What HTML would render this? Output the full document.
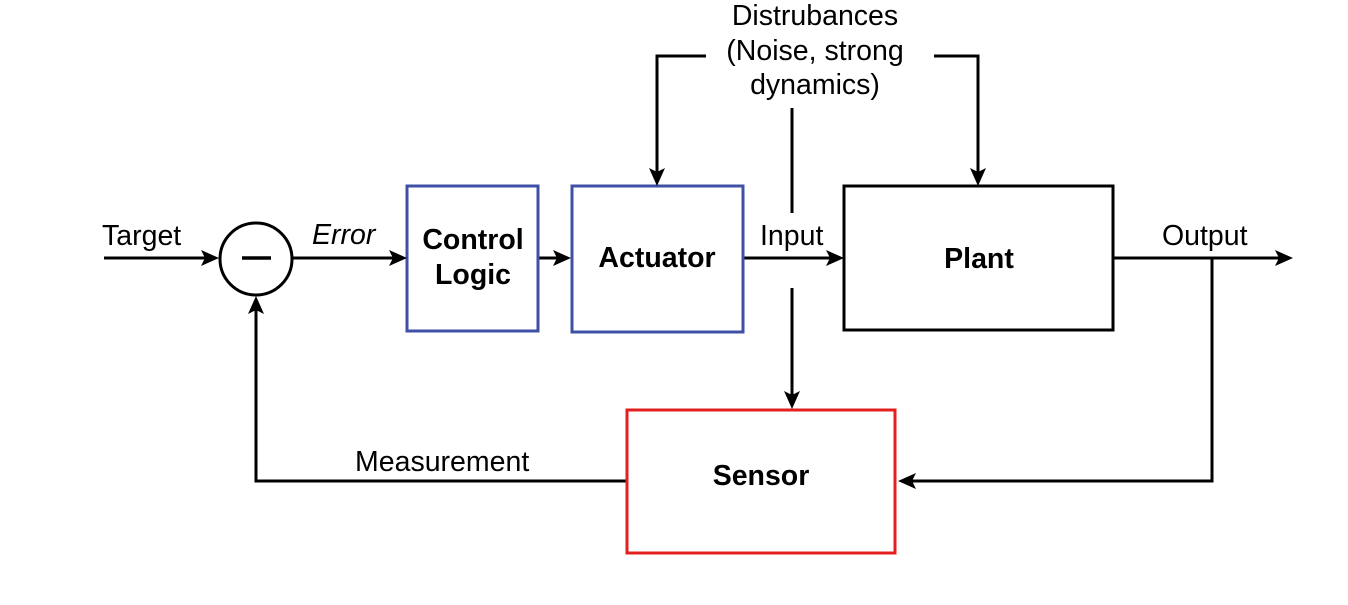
<!DOCTYPE html>
<html><head><meta charset="utf-8"><style>html,body{margin:0;padding:0;background:#fff}svg{display:block}text{font-family:"Liberation Sans",Arial,sans-serif;fill:#000}</style></head>
<body>
<svg width="1348" height="605" viewBox="0 0 1348 605" xmlns="http://www.w3.org/2000/svg">
<g stroke="#000" stroke-width="3" fill="none">
<line x1="104" y1="258" x2="210" y2="258"/>
<circle cx="256" cy="259" r="36"/>
<line x1="242" y1="258" x2="271" y2="258" stroke-width="3.5"/>
<line x1="292" y1="258" x2="398" y2="258"/>
<line x1="538" y1="258" x2="562" y2="258"/>
<line x1="743" y1="258" x2="835" y2="258"/>
<line x1="1113" y1="258" x2="1284" y2="258"/>
<polyline points="1212,258 1212,481 907,481"/>
<polyline points="626,481 256,481 256,304"/>
<polyline points="706,56 657,56 657,177"/>
<polyline points="934,56 978,56 978,177"/>
<line x1="792" y1="108" x2="792" y2="213"/>
<line x1="792" y1="288" x2="792" y2="400"/>
<rect x="407" y="186" width="131" height="145" stroke="#3f51a5"/>
<rect x="572" y="186" width="171" height="146" stroke="#3f51a5"/>
<rect x="844" y="186" width="269" height="144"/>
<rect x="627" y="410" width="268" height="143" stroke="#e3201f"/>
</g>
<g fill="#000">
<path d="M219,258 L201,250 L205,258 L201,266 Z"/>
<path d="M407,258 L389,250 L393,258 L389,266 Z"/>
<path d="M571,258 L553,250 L557,258 L553,266 Z"/>
<path d="M844,258 L826,250 L830,258 L826,266 Z"/>
<path d="M1293,258 L1275,250 L1279,258 L1275,266 Z"/>
<path d="M898,481 L916,473 L912,481 L916,489 Z"/>
<path d="M256,296 L248,314 L256,310 L264,314 Z"/>
<path d="M657,186 L649,168 L657,172 L665,168 Z"/>
<path d="M978,186 L970,168 L978,172 L986,168 Z"/>
<path d="M792,409 L784,391 L792,395 L800,391 Z"/>
</g>
<g font-size="28.5">
<text x="102" y="245">Target</text>
<text x="312" y="244" font-style="italic">Error</text>
<text x="760" y="245">Input</text>
<text x="1162" y="245">Output</text>
<text x="355" y="471">Measurement</text>
<text x="815" y="25" text-anchor="middle">Distrubances</text>
<text x="815" y="60" text-anchor="middle">(Noise, strong</text>
<text x="815" y="94" text-anchor="middle">dynamics)</text>
</g>
<g font-size="28.5" font-weight="bold" text-anchor="middle">
<text x="473" y="249">Control</text>
<text x="473" y="284">Logic</text>
<text x="657" y="267">Actuator</text>
<text x="979" y="268">Plant</text>
<text x="761" y="485">Sensor</text>
</g>
</svg>
</body></html>
